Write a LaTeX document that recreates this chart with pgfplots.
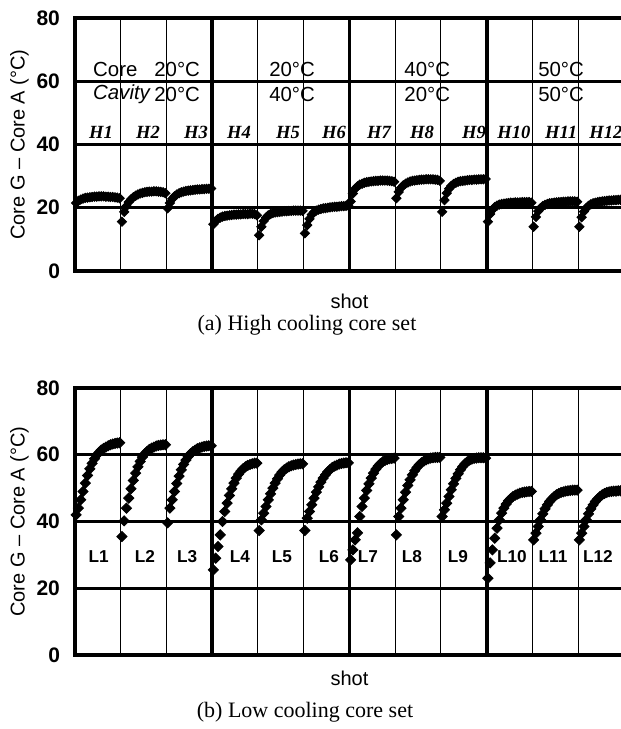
\documentclass[border=0pt]{standalone}
\usepackage{fontspec}
\setmainfont{Liberation Sans}
\newfontfamily\capfont{Liberation Serif}
\usepackage{pgfplots}
\usepackage{pgfplotstable}
\pgfplotsset{compat=1.18}

% 20 shots per condition, 12 conditions per panel
\pgfplotstableread[row sep=\\]{
y\\
21.5\\ 22.2\\ 22.6\\ 22.9\\ 23.1\\ 23.2\\ 23.3\\ 23.4\\ 23.5\\ 23.5\\ 23.6\\ 23.6\\ 23.6\\ 23.5\\ 23.5\\ 23.4\\ 23.4\\ 23.3\\ 23.2\\ 23.0\\
15.6\\ 18.7\\ 20.5\\ 21.8\\ 22.7\\ 23.3\\ 23.8\\ 24.2\\ 24.5\\ 24.7\\ 24.9\\ 25.0\\ 25.1\\ 25.1\\ 25.2\\ 25.2\\ 25.1\\ 25.0\\ 24.9\\ 24.6\\
19.8\\ 21.5\\ 22.8\\ 23.6\\ 24.2\\ 24.6\\ 24.9\\ 25.1\\ 25.3\\ 25.4\\ 25.5\\ 25.6\\ 25.7\\ 25.8\\ 25.8\\ 25.9\\ 25.9\\ 26.0\\ 26.0\\ 26.1\\
14.8\\ 15.8\\ 16.5\\ 16.9\\ 17.2\\ 17.4\\ 17.5\\ 17.6\\ 17.7\\ 17.8\\ 17.8\\ 17.9\\ 17.9\\ 18.0\\ 18.0\\ 18.0\\ 18.1\\ 18.1\\ 18.0\\ 17.6\\
11.3\\ 14.0\\ 15.8\\ 16.9\\ 17.6\\ 18.0\\ 18.3\\ 18.5\\ 18.6\\ 18.7\\ 18.8\\ 18.9\\ 18.9\\ 19.0\\ 19.0\\ 19.1\\ 19.1\\ 19.1\\ 19.1\\ 19.0\\
11.9\\ 14.5\\ 16.5\\ 17.8\\ 18.6\\ 19.1\\ 19.4\\ 19.6\\ 19.8\\ 19.9\\ 20.0\\ 20.1\\ 20.2\\ 20.3\\ 20.3\\ 20.4\\ 20.5\\ 20.5\\ 20.6\\ 20.6\\
22.0\\ 24.5\\ 26.0\\ 26.8\\ 27.3\\ 27.6\\ 27.9\\ 28.1\\ 28.2\\ 28.3\\ 28.4\\ 28.5\\ 28.5\\ 28.6\\ 28.6\\ 28.6\\ 28.6\\ 28.5\\ 28.4\\ 28.2\\
23.0\\ 25.0\\ 26.3\\ 27.1\\ 27.6\\ 28.0\\ 28.3\\ 28.5\\ 28.6\\ 28.7\\ 28.8\\ 28.9\\ 28.9\\ 29.0\\ 29.0\\ 29.0\\ 29.0\\ 28.9\\ 28.8\\ 28.5\\
18.7\\ 22.4\\ 24.6\\ 26.0\\ 26.9\\ 27.5\\ 27.9\\ 28.2\\ 28.4\\ 28.5\\ 28.6\\ 28.7\\ 28.8\\ 28.8\\ 28.9\\ 28.9\\ 29.0\\ 29.0\\ 29.0\\ 29.1\\
15.6\\ 18.0\\ 19.4\\ 20.2\\ 20.7\\ 21.0\\ 21.2\\ 21.3\\ 21.4\\ 21.5\\ 21.6\\ 21.6\\ 21.7\\ 21.7\\ 21.7\\ 21.8\\ 21.8\\ 21.8\\ 21.8\\ 21.6\\
14.0\\ 17.1\\ 18.9\\ 19.9\\ 20.5\\ 20.9\\ 21.2\\ 21.4\\ 21.5\\ 21.6\\ 21.7\\ 21.8\\ 21.8\\ 21.9\\ 21.9\\ 22.0\\ 22.0\\ 22.0\\ 22.0\\ 21.9\\
14.0\\ 17.0\\ 18.8\\ 19.9\\ 20.6\\ 21.1\\ 21.4\\ 21.6\\ 21.8\\ 21.9\\ 22.0\\ 22.1\\ 22.2\\ 22.3\\ 22.3\\ 22.4\\ 22.4\\ 22.5\\ 22.5\\ 22.6\\
}\hightab

\pgfplotstableread[row sep=\\]{
y\\
42.0\\ 44.0\\ 46.5\\ 49.0\\ 51.5\\ 53.8\\ 55.8\\ 57.4\\ 58.8\\ 59.9\\ 60.7\\ 61.4\\ 61.9\\ 62.3\\ 62.7\\ 63.0\\ 63.2\\ 63.4\\ 63.5\\ 63.6\\
35.5\\ 40.2\\ 44.0\\ 47.0\\ 49.8\\ 52.3\\ 54.5\\ 56.4\\ 58.0\\ 59.3\\ 60.3\\ 61.0\\ 61.6\\ 62.0\\ 62.3\\ 62.6\\ 62.8\\ 62.9\\ 63.0\\ 63.0\\
39.6\\ 44.0\\ 46.5\\ 49.0\\ 51.4\\ 53.6\\ 55.5\\ 57.1\\ 58.4\\ 59.5\\ 60.3\\ 60.9\\ 61.4\\ 61.8\\ 62.1\\ 62.3\\ 62.5\\ 62.6\\ 62.7\\ 62.7\\
25.5\\ 29.0\\ 32.5\\ 36.0\\ 40.0\\ 43.0\\ 45.5\\ 47.8\\ 49.8\\ 51.5\\ 53.0\\ 54.2\\ 55.1\\ 55.8\\ 56.4\\ 56.8\\ 57.1\\ 57.3\\ 57.5\\ 57.5\\
37.3\\ 40.5\\ 42.5\\ 44.5\\ 46.5\\ 48.3\\ 50.0\\ 51.5\\ 52.8\\ 53.9\\ 54.8\\ 55.5\\ 56.0\\ 56.4\\ 56.7\\ 56.9\\ 57.1\\ 57.2\\ 57.3\\ 57.3\\
37.3\\ 41.0\\ 43.0\\ 45.0\\ 47.0\\ 48.8\\ 50.4\\ 51.8\\ 53.0\\ 54.0\\ 54.9\\ 55.6\\ 56.2\\ 56.6\\ 56.9\\ 57.2\\ 57.4\\ 57.5\\ 57.6\\ 57.6\\
28.5\\ 31.5\\ 34.5\\ 36.6\\ 41.5\\ 44.5\\ 47.0\\ 49.3\\ 51.3\\ 53.0\\ 54.5\\ 55.7\\ 56.6\\ 57.3\\ 57.9\\ 58.3\\ 58.6\\ 58.8\\ 58.9\\ 59.0\\
36.0\\ 41.5\\ 44.0\\ 46.5\\ 48.8\\ 50.8\\ 52.5\\ 54.0\\ 55.2\\ 56.2\\ 57.0\\ 57.6\\ 58.1\\ 58.5\\ 58.8\\ 59.0\\ 59.1\\ 59.2\\ 59.2\\ 59.2\\
41.5\\ 43.5\\ 45.5\\ 47.5\\ 49.5\\ 51.3\\ 52.9\\ 54.3\\ 55.5\\ 56.5\\ 57.3\\ 57.9\\ 58.4\\ 58.7\\ 58.9\\ 59.0\\ 59.1\\ 59.1\\ 59.1\\ 59.0\\
23.0\\ 27.6\\ 31.5\\ 35.0\\ 38.0\\ 40.5\\ 42.5\\ 44.0\\ 45.2\\ 46.2\\ 46.9\\ 47.5\\ 47.9\\ 48.2\\ 48.5\\ 48.7\\ 48.8\\ 48.9\\ 49.0\\ 49.0\\
34.5\\ 36.5\\ 38.5\\ 40.5\\ 42.3\\ 43.8\\ 45.0\\ 46.0\\ 46.8\\ 47.5\\ 48.0\\ 48.4\\ 48.7\\ 48.9\\ 49.1\\ 49.2\\ 49.3\\ 49.4\\ 49.4\\ 49.4\\
34.5\\ 36.5\\ 38.5\\ 40.5\\ 42.3\\ 43.8\\ 45.0\\ 46.0\\ 46.8\\ 47.5\\ 48.0\\ 48.4\\ 48.7\\ 48.9\\ 49.0\\ 49.1\\ 49.1\\ 49.2\\ 49.2\\ 49.2\\
}\lowtab

\tikzset{
  thinv/.style={black, line width=0.5pt},
  thickv/.style={black, line width=1.8pt},
  tmp/.style={font=\fontsize{10.2}{11}\selectfont, inner sep=0pt},
  hl/.style={font=\capfont\bfseries\itshape\fontsize{9.3}{10}\selectfont},
  ll/.style={font=\bfseries\fontsize{8.6}{9}\selectfont},
}
\pgfplotsset{
  panel/.style={
    anchor=north west, scale only axis, width=274.5pt,
    xmin=0, xmax=240, ymin=0, ymax=80,
    xtick=\empty, ytick={0,20,40,60,80},
    major tick length=0pt,
    ymajorgrids, grid style={black, line width=1.5pt},
    axis line style={black, line width=1.8pt},
    /pgf/number format/assume math mode=true,
    yticklabel style={font=\bfseries\fontsize{10.5}{11}\selectfont, xshift=-4pt},
    ylabel={Core G – Core A (°C)},
    every axis y label/.style={at={(rel axis cs:0,0.5)}, xshift=-27.8pt, rotate=90, anchor=center, font=\fontsize{10}{11}\selectfont},
    xlabel={shot},
    xlabel style={font=\fontsize{10}{11}\selectfont},
    every axis x label/.style={at={(rel axis cs:0.5,0)}, anchor=center},
  },
}

\begin{document}
\begin{tikzpicture}
\useasboundingbox (0,0) rectangle (310.5pt,-364.5pt);

% (a) high cooling core set
\begin{axis}[panel, at={(37.5pt,-9pt)}, height=126.5pt,
  xlabel style={yshift=-15pt}]
  \pgfplotsinvokeforeach{20,40,80,100,140,160,200,220}{\draw[thinv] (#1,0) -- (#1,80);}
  \pgfplotsinvokeforeach{60,120,180}{\draw[thickv] (#1,0) -- (#1,80);}
  \addplot[only marks, mark=square*, mark size=1.65pt, black,
    mark options={rotate=45}] table[x expr=\coordindex+0.5, y=y] {\hightab};
  \node[tmp, anchor=west] at (7.8,63.8) {Core};
  \node[tmp, anchor=east] at (54.8,63.8) {20°C};
  \node[tmp, anchor=west, font=\itshape\fontsize{10.2}{11}\selectfont] at (7.8,55.8) {Cavity};
  \node[tmp, anchor=east] at (54.8,55.8) {20°C};
  \node[tmp] at (94.9,63.8) {20°C};
  \node[tmp] at (94.9,55.8) {40°C};
  \node[tmp] at (154,63.8) {40°C};
  \node[tmp] at (154,55.8) {20°C};
  \node[tmp] at (212.5,63.8) {50°C};
  \node[tmp] at (212.5,55.8) {50°C};
  \node[hl] at (11.4,43.7) {H1};
  \node[hl] at (31.9,43.7) {H2};
  \node[hl] at (52.9,43.7) {H3};
  \node[hl] at (71.7,43.7) {H4};
  \node[hl] at (93.1,43.7) {H5};
  \node[hl] at (113.2,43.7) {H6};
  \node[hl] at (132.9,43.7) {H7};
  \node[hl] at (151.7,43.7) {H8};
  \node[hl] at (174.4,43.7) {H9};
  \node[hl] at (191.9,43.7) {H10};
  \node[hl] at (212.5,43.7) {H11};
  \node[hl] at (232.1,43.7) {H12};
\end{axis}

\node[font=\capfont\fontsize{11}{13}\selectfont] at (153.5pt,-162.5pt) {(a) High cooling core set};

% (b) low cooling core set
\begin{axis}[panel, at={(37.5pt,-194pt)}, height=133.5pt,
  xlabel style={yshift=-11.5pt}]
  \pgfplotsinvokeforeach{20,40,80,100,140,160,200,220}{\draw[thinv] (#1,0) -- (#1,80);}
  \pgfplotsinvokeforeach{60,120,180}{\draw[thickv] (#1,0) -- (#1,80);}
  \addplot[only marks, mark=square*, mark size=1.8pt, black,
    mark options={rotate=45}] table[x expr=\coordindex+0.5, y=y] {\lowtab};
  \node[ll] at (10.3,29.5) {L1};
  \node[ll] at (30.6,29.5) {L2};
  \node[ll] at (49,29.5) {L3};
  \node[ll] at (72.1,29.5) {L4};
  \node[ll] at (90.5,29.5) {L5};
  \node[ll] at (111,29.5) {L6};
  \node[ll] at (128,29.5) {L7};
  \node[ll] at (147.3,29.5) {L8};
  \node[ll] at (167.4,29.5) {L9};
  \node[ll] at (191,29.5) {L10};
  \node[ll] at (209,29.5) {L11};
  \node[ll] at (228.6,29.5) {L12};
\end{axis}

\node[font=\capfont\fontsize{11}{13}\selectfont] at (152.5pt,-356pt) {(b) Low cooling core set};
\end{tikzpicture}
\end{document}
